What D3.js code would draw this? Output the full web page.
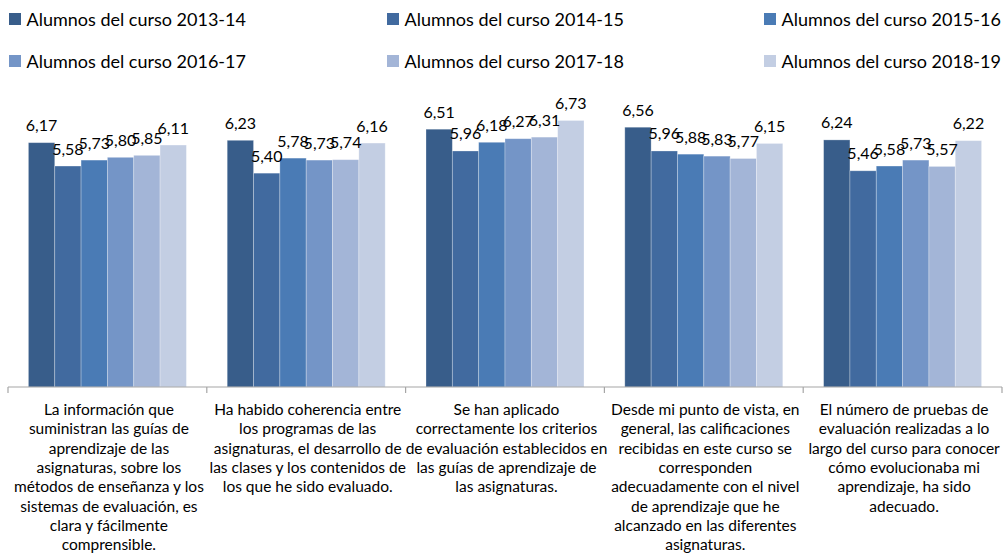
<!DOCTYPE html>
<html><head><meta charset="utf-8">
<script src="https://cdn.jsdelivr.net/npm/d3@7"></script>
<style>body{margin:0;background:#fff}svg{display:block}</style>
</head><body>
<svg id="c" width="1003" height="557"></svg>
<script>
const series = ["Alumnos del curso 2013-14","Alumnos del curso 2014-15","Alumnos del curso 2015-16","Alumnos del curso 2016-17","Alumnos del curso 2017-18","Alumnos del curso 2018-19"];
const colors = ["#385D8A","#416A9F","#4A7BB5","#7495C7","#A3B5D7","#C3CEE3"];
const categories = ["Q1","Q2","Q3","Q4","Q5"];
const categoryLines = [
  ["La información que","suministran las guías de","aprendizaje de las","asignaturas, sobre los","métodos de enseñanza y los","sistemas de evaluación, es","clara y fácilmente","comprensible."],
  ["Ha habido coherencia entre","los programas de las","asignaturas, el desarrollo de","las clases y los contenidos de","los que he sido evaluado."],
  ["Se han aplicado","correctamente los criterios","de evaluación establecidos en","las guías de aprendizaje de","las asignaturas."],
  ["Desde mi punto de vista, en","general, las calificaciones","recibidas en este curso se","corresponden","adecuadamente con el nivel","de aprendizaje que he","alcanzado en las diferentes","asignaturas."],
  ["El número de pruebas de","evaluación realizadas a lo","largo del curso para conocer","cómo evolucionaba mi","aprendizaje, ha sido","adecuado."]
];
const v2013 = [6.17,6.23,6.51,6.56,6.24];
const v2014 = [5.58,5.40,5.96,5.96,5.46];
const v2015 = [5.73,5.78,6.18,5.88,5.58];
const v2016 = [5.80,5.73,6.27,5.83,5.73];
const v2017 = [5.85,5.74,6.31,5.77,5.57];
const v2018 = [6.11,6.16,6.73,6.15,6.22];
const values = [v2013,v2014,v2015,v2016,v2017,v2018];

const svg = d3.select("#c");
const font = "Lato, 'Open Sans', sans-serif";
const baseY = 387;
const y = d3.scaleLinear().domain([0,7]).range([baseY, baseY - 7*39.6]);
const x0 = d3.scaleBand().domain(categories).range([8,1002]).padding(0);
const x1 = d3.scaleBand().domain(series).range([0,x0.bandwidth()]).paddingInner(0).paddingOuter(0.775);

// bars
categories.forEach((c,ci)=>{
  const g = svg.append("g").attr("transform",`translate(${x0(c)},0)`);
  series.forEach((s,si)=>{
    const v = values[si][ci];
    g.append("rect").attr("x",x1(s)).attr("y",y(v)).attr("width",x1.bandwidth()).attr("height",baseY-y(v))
      .attr("fill",colors[si]).attr("stroke","#ffffff").attr("stroke-opacity",0.35).attr("stroke-width",0.8);
  });
  series.forEach((s,si)=>{
    const v = values[si][ci];
    g.append("text").attr("x",x1(s)+x1.bandwidth()/2).attr("y",y(v)-11.5)
      .attr("text-anchor","middle").attr("font-family",font).attr("font-size",16).attr("fill","#000")
      .text(d3.format(".2f")(v).replace(".",","));
  });
});

// axis
const ax = svg.append("g").attr("transform",`translate(0,${baseY})`)
  .call(d3.axisBottom(x0).tickSize(0).tickFormat(""));
ax.select(".domain").attr("stroke","#A6A6A6").attr("stroke-width",1.2).attr("d",`M8,0H1002`);
const bounds = categories.map(c=>x0(c)).concat([x0.range()[1]]);
ax.selectAll(".bt").data(bounds).enter().append("line").attr("class","bt")
  .attr("x1",d=>d).attr("x2",d=>d).attr("y1",0).attr("y2",6).attr("stroke","#A6A6A6").attr("stroke-width",1.2);

// category labels
categories.forEach((c,ci)=>{
  const t = svg.append("text").attr("text-anchor","middle").attr("font-family",font).attr("font-size",15.5).attr("fill","#000");
  categoryLines[ci].forEach((ln,li)=>{
    t.append("tspan").attr("x",x0(c)+x0.bandwidth()/2+1.5).attr("y",415+li*19.3).text(ln);
  });
});

// legend
const legX = [9,387,764], legY = [19,61];
series.forEach((s,i)=>{
  const lx = legX[i%3], ly = legY[Math.floor(i/3)];
  svg.append("rect").attr("x",lx).attr("y",ly-6).attr("width",12).attr("height",12).attr("fill",colors[i]);
  svg.append("text").attr("x",lx+17.5).attr("y",ly+6.5).attr("font-family",font).attr("font-size",18).attr("fill","#000").text(s);
});
</script>
</body></html>
